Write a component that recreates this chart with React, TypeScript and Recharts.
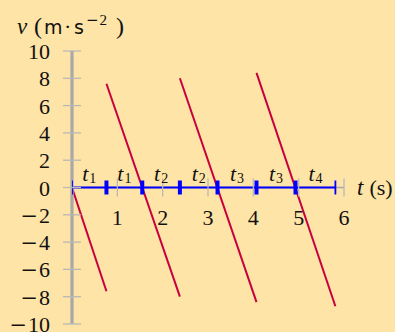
import React from "react";
import { LineChart, Line, XAxis, YAxis, ReferenceLine, LabelList } from "recharts";

// segment end times along the blue line
const times = [0, 0.76, 1.55, 2.38, 3.21, 4.07, 4.93, 5.81];
const timeLabels = ["1", "1", "2", "2", "3", "3", "4"];
const xTicks = [1, 2, 3, 4, 5, 6];
const yTicks = [-10, -8, -6, -4, -2, 0, 2, 4, 6, 8, 10];

// velocity segments (t in s, v in m/s)
const seg1 = [
  { t: 0, v: 0 },
  { t: 0.76, v: -7.6 },
];
const seg2 = [
  { t: 0.76, v: 7.6 },
  { t: 2.38, v: -8.0 },
];
const seg3 = [
  { t: 2.38, v: 8.0 },
  { t: 4.07, v: -8.4 },
];
const seg4 = [
  { t: 4.07, v: 8.4 },
  { t: 5.81, v: -8.7 },
];

const W = 395;
const H = 332;
const TOP = 51;
const BOTTOM = 8;
const PLOT_H = H - TOP - BOTTOM;

const BG = "#fee4a6";
const RED = "#c8003f";
const BLUE = "#0000ff";
const GRAY = "#a8a8a8";
const SERIF = "'Liberation Serif', 'DejaVu Serif', serif";
const SANS = "'DejaVu Sans', sans-serif";
const MINUS_FONT = "'DejaVu Serif', serif";

const txt = { fontFamily: SERIF, fontSize: 22, fill: "#111" };

const blueLine = times.map((t) => ({ t, v: 0 }));
const tLabelPts = timeLabels.map((name, i) => ({
  t: (times[i] + times[i + 1]) / 2,
  v: 0,
  name,
}));

const YTick = (props: any) => {
  const { x, y, payload } = props;
  const v = payload.value;
  return (
    <g>
      <line x1={x - 9} x2={x + 9} y1={y} y2={y} stroke="#b8b8b8" strokeWidth={1.3} />
      <text x={x - 22} y={y + 8} textAnchor="end" style={txt}>
        {v < 0 && <tspan style={{ fontFamily: MINUS_FONT, fontSize: 21 }}>{"\u2212"}</tspan>}
        <tspan dx={v < 0 ? 1 : 0}>{Math.abs(v)}</tspan>
      </text>
    </g>
  );
};

const XTick = (props: any) => {
  const { x, y, payload } = props;
  const y0 = y - PLOT_H / 2;
  return (
    <g>
      <line x1={x} x2={x} y1={y0 - 9} y2={y0 + 9} stroke="#b8b8b8" strokeWidth={1.3} />
      <text x={x} y={y0 + 37} textAnchor="middle" style={txt}>
        {payload.value}
      </text>
    </g>
  );
};

const BlueDot = (props: any) => {
  const { cx, cy, index } = props;
  const end = index === 0 || index === times.length - 1;
  return (
    <line
      key={index}
      x1={cx}
      x2={cx}
      y1={cy - 7}
      y2={cy + 7}
      stroke={BLUE}
      strokeWidth={end ? 1.8 : 4}
    />
  );
};

const TLabel = (props: any) => {
  const { x, y, value } = props;
  return (
    <text x={x} y={y - 7} textAnchor="middle" style={txt}>
      <tspan style={{ fontStyle: "italic" }}>t</tspan>
      <tspan style={{ fontSize: 14 }} dx={1} dy={2}>
        {value}
      </tspan>
    </text>
  );
};

const YLabel = (props: any) => {
  const { viewBox } = props;
  const base = viewBox.y - 17;
  return (
    <text y={base} style={txt}>
      <tspan x={17} style={{ fontStyle: "italic", fontSize: 23 }}>v</tspan>
      <tspan x={34} style={{ fontSize: 24 }}>(</tspan>
      <tspan x={44} style={{ fontFamily: SANS, fontSize: 19 }}>m</tspan>
      <tspan x={64}>·</tspan>
      <tspan x={74} style={{ fontFamily: SANS, fontSize: 19 }}>s</tspan>
      <tspan x={86} y={base - 9} style={{ fontFamily: MINUS_FONT, fontSize: 15 }}>
        {"\u2212"}
      </tspan>
      <tspan dx={1} style={{ fontSize: 15 }}>2</tspan>
      <tspan x={116} y={base} style={{ fontSize: 24 }}>)</tspan>
    </text>
  );
};

const TAxisLabel = (props: any) => {
  const { viewBox } = props;
  return (
    <text x={viewBox.x + viewBox.width + 13} y={viewBox.y + 7} style={txt}>
      <tspan style={{ fontStyle: "italic", fontSize: 23 }}>t</tspan>
      <tspan dx={6}>(s)</tspan>
    </text>
  );
};

export default function App() {
  return (
    <div style={{ position: "absolute", left: 0, top: 0, width: W, height: H, background: BG }}>
      <LineChart width={W} height={H} margin={{ top: TOP, right: 51, left: 0, bottom: 0 }}>
        <XAxis
          type="number"
          dataKey="t"
          domain={[0, 6]}
          ticks={xTicks}
          height={BOTTOM}
          axisLine={false}
          tickLine={false}
          tickSize={0}
          tickMargin={0}
          tick={XTick}
          allowDataOverflow
        />
        <YAxis
          type="number"
          dataKey="v"
          domain={[-10, 10]}
          ticks={yTicks}
          width={72}
          axisLine={{ stroke: GRAY, strokeWidth: 3.2 }}
          tickLine={false}
          tickSize={0}
          tickMargin={0}
          tick={YTick}
          interval={0}
          label={{ content: YLabel }}
        />
        <ReferenceLine y={0} stroke={GRAY} strokeWidth={1.5} label={{ content: TAxisLabel }} />
        <Line
          data={blueLine}
          dataKey="v"
          stroke={BLUE}
          strokeWidth={2}
          dot={BlueDot}
          activeDot={false}
          isAnimationActive={false}
        />
        <Line
          data={tLabelPts}
          dataKey="v"
          stroke="none"
          dot={false}
          activeDot={false}
          isAnimationActive={false}
        >
          <LabelList dataKey="name" content={TLabel} />
        </Line>
        <Line data={seg1} dataKey="v" stroke={RED} strokeWidth={2} dot={false} isAnimationActive={false} />
        <Line data={seg2} dataKey="v" stroke={RED} strokeWidth={2} dot={false} isAnimationActive={false} />
        <Line data={seg3} dataKey="v" stroke={RED} strokeWidth={2} dot={false} isAnimationActive={false} />
        <Line data={seg4} dataKey="v" stroke={RED} strokeWidth={2} dot={false} isAnimationActive={false} />
      </LineChart>
    </div>
  );
}
